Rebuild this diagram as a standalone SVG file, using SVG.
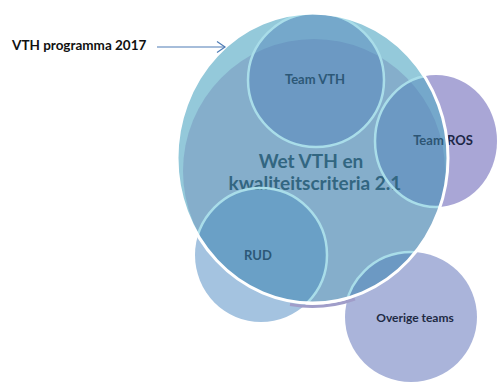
<svg xmlns="http://www.w3.org/2000/svg" width="497" height="383" viewBox="0 0 497 383">
<style>
.lbl{font-family:Lato,"Liberation Sans",sans-serif;font-weight:bold;font-size:13px;text-anchor:middle}
.main{font-family:Lato,"Liberation Sans",sans-serif;font-weight:bold;font-size:19px;fill:#326681;text-anchor:middle}
.ov{fill:#4A7DB8;fill-opacity:0.42}
.ring{fill:none;stroke:#A9DDE9;stroke-width:2.5}
</style>
<defs>
<clipPath id="big"><ellipse cx="312.5" cy="158" rx="135.5" ry="145"/></clipPath>
<marker id="chev" markerWidth="12" markerHeight="12" refX="10" refY="6" orient="auto" markerUnits="userSpaceOnUse">
<path d="M2,0.5 L10,6 L2,11.5" fill="none" stroke="#4F7CB5" stroke-width="1.2"/>
</marker>
</defs>
<rect width="497" height="383" fill="#FFFFFF"/>
<g id="outside-parts">
<ellipse cx="261" cy="255" rx="66" ry="67" fill="#A4C3E0"/>
<ellipse cx="411" cy="317" rx="66" ry="65" fill="#AAB4DA"/>
<ellipse cx="436" cy="141" rx="61" ry="66" fill="#A9A6D6"/>
<path d="M290,304.5 A135.5,145 0 0 0 355,299" fill="none" stroke="#A09DC9" stroke-width="3"/>
</g>
<g id="wet-vth">
<ellipse cx="312.5" cy="158" rx="135.5" ry="145" fill="#94C9DA"/>
<ellipse cx="314" cy="171" rx="131" ry="132" fill="#85AECB" clip-path="url(#big)"/>
</g>
<g id="overlaps" clip-path="url(#big)">
<ellipse class="ov" cx="316" cy="80" rx="68" ry="67"/>
<ellipse class="ov" cx="436" cy="141" rx="61" ry="66"/>
<ellipse cx="261" cy="255" rx="66" ry="67" fill="#4A90C2" fill-opacity="0.45"/>
<ellipse class="ov" cx="411" cy="317" rx="66" ry="65" fill-opacity="0.5"/>
</g>
<text class="main" x="311" y="168">Wet VTH  en</text>
<text class="main" x="315" y="190">kwaliteitscriteria 2.1</text>
<g id="rings" clip-path="url(#big)">
<ellipse class="ring" cx="316" cy="80" rx="68" ry="67"/>
<ellipse class="ring" cx="436" cy="141" rx="61" ry="66"/>
<ellipse class="ring" cx="261" cy="255" rx="66" ry="67"/>
<ellipse class="ring" cx="411" cy="317" rx="66" ry="65"/>
</g>
<g id="team-ros">
<text class="lbl" x="443" y="145"><tspan fill="#2D5574">Team </tspan><tspan fill="#1D2647">ROS</tspan></text>
</g>
<ellipse cx="312.5" cy="158" rx="135.5" ry="145" fill="none" stroke="#FFFFFF" stroke-width="3"/>
<g id="team-vth"><text class="lbl" x="315" y="84" fill="#2C5877">Team VTH</text></g>
<g id="rud"><text class="lbl" x="258" y="260" fill="#2C5877">RUD</text></g>
<g id="overige-teams"><text class="lbl" x="415" y="322" fill="#1E2A44" style="font-size:12px">Overige teams</text></g>
<g id="vth-programma"><text class="lbl" x="12" y="50" fill="#111111" style="text-anchor:start;font-size:13.5px">VTH programma 2017</text></g>
<g id="connectors">
<line x1="157" y1="47" x2="225" y2="47" stroke="#4F7CB5" stroke-width="1.2" marker-end="url(#chev)"/>
</g>
</svg>
